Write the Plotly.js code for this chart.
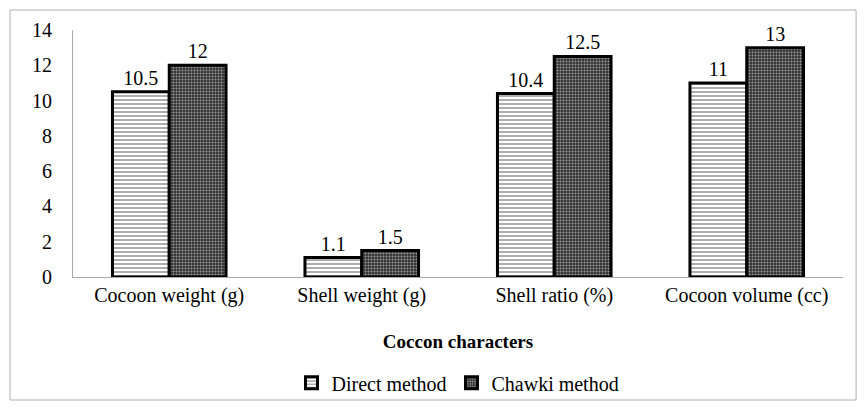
<!DOCTYPE html>
<html><head><meta charset="utf-8">
<script src="https://cdn.plot.ly/plotly-3.0.1.min.js"></script>
<style>body{margin:0;background:#fff}#c{width:865px;height:408px}</style>
</head><body><div id="c"></div>
<script>
const categories = ["Cocoon weight (g)", "Shell weight (g)", "Shell ratio (%)", "Cocoon volume (cc)"];
const directValues = [10.5, 1.1, 10.4, 11];
const chawkiValues = [12, 1.5, 12.5, 13];
const seriesNames = ["Direct method", "Chawki method"];
const yTicks = [0, 2, 4, 6, 8, 10, 12, 14];

const font = "Liberation Serif, Times New Roman, serif";
const fnt = (s) => ({family:font, size:s, color:"#000"});
const traces = [
  {type:"bar", name:seriesNames[0], x:categories, y:directValues,
   text:directValues.map(String), textposition:"outside", cliponaxis:false,
   textfont:fnt(20),
   marker:{color:"#ffffff", line:{color:"#000",width:3},
     pattern:{shape:"-", fgcolor:"#8a8a8a", bgcolor:"#ffffff", size:4, solidity:0.35}}},
  {type:"bar", name:seriesNames[1], x:categories, y:chawkiValues,
   text:chawkiValues.map(String), textposition:"outside", cliponaxis:false,
   textfont:fnt(20),
   marker:{color:"#444", line:{color:"#000",width:3},
     pattern:{shape:".", fgcolor:"#9a9a9a", bgcolor:"#333333", size:3, solidity:0.35}}}
];
const layout = {
  width:865, height:408,
  margin:{l:73, r:22, t:30, b:131},
  paper_bgcolor:"#fff", plot_bgcolor:"#fff",
  font:fnt(20),
  bargap:0.41, bargroupgap:0,
  showlegend:true,
  legend:{orientation:"h", x:0.5, xanchor:"center", xref:"paper", yref:"container", y:0.062, yanchor:"middle",
    bgcolor:"rgba(0,0,0,0)", font:fnt(20), itemwidth:30},
  xaxis:{showline:true, linecolor:"#aaa", linewidth:1, ticks:"", showgrid:false, automargin:false,
    tickfont:fnt(20),
    title:{text:"<b>Coccon characters</b>", font:fnt(19), standoff:28}},
  yaxis:{range:[0,14], tickvals:yTicks, showline:true, linecolor:"#aaa", linewidth:1, automargin:false,
    showgrid:false, zeroline:false, ticks:"", ticklabelstandoff:16,
    tickfont:fnt(20)},
  shapes:[{type:"rect", xref:"paper", yref:"paper", x0:-0.0818, x1:1.017, y0:-0.498, y1:1.081,
    line:{color:"#b0b0b0", width:1}, fillcolor:"rgba(0,0,0,0)"}]
};
Plotly.newPlot("c", traces, layout, {staticPlot:true});
</script></body></html>
